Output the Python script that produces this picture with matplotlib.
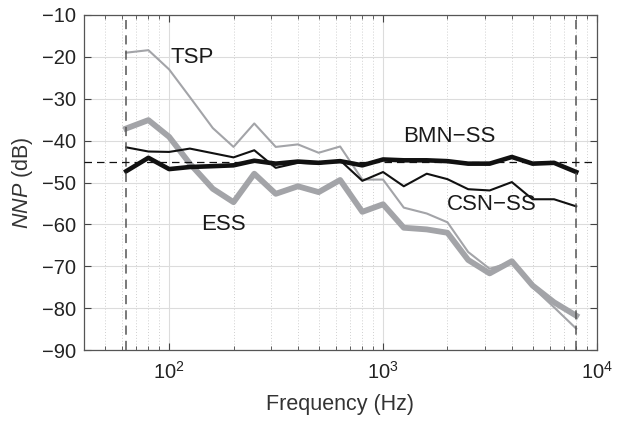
import numpy as np
import matplotlib
matplotlib.use("Agg")
import matplotlib.pyplot as plt
from matplotlib.ticker import LogLocator, NullFormatter, FixedLocator

plt.rcParams['font.family'] = ['Liberation Sans', 'DejaVu Sans']
plt.rcParams['mathtext.fontset'] = 'custom'
plt.rcParams['mathtext.rm'] = 'Liberation Sans'
plt.rcParams['mathtext.it'] = 'Liberation Sans:italic'

# 1/3-octave band centre frequencies (Hz)
freqs = [63, 80, 100, 125, 160, 200, 250, 315, 400, 500, 630, 800,
         1000, 1250, 1600, 2000, 2500, 3150, 4000, 5000, 6300, 8000]

# Normalised noise power per band (dB)
tsp = [-19.0, -18.4, -23.0, -29.6, -37.0, -41.5, -35.9, -41.5, -40.9, -42.9, -41.4,
       -49.3, -49.3, -56.0, -57.4, -59.5, -66.6, -70.6, -69.0, -75.0, -79.8, -84.9]
ess = [-37.1, -35.1, -39.1, -45.5, -51.5, -54.7, -47.9, -52.7, -50.9, -52.3, -49.4,
       -57.0, -55.2, -60.8, -61.2, -62.0, -68.5, -71.7, -68.8, -74.6, -78.6, -81.8]
csn_ss = [-41.6, -42.6, -42.7, -41.9, -43.0, -44.0, -42.3, -46.5, -45.3, -45.5, -44.7,
          -49.6, -47.5, -50.9, -47.9, -49.2, -51.6, -51.9, -49.9, -54.0, -54.0, -55.7]
bmn_ss = [-47.3, -44.1, -46.8, -46.3, -46.1, -45.9, -44.8, -45.5, -45.0, -45.3, -44.9,
          -45.9, -44.5, -44.7, -44.7, -44.9, -45.5, -45.5, -43.9, -45.5, -45.3, -47.5]

band_low, band_high = 63, 8000
ref_level = -45

fig = plt.figure(figsize=(6.34, 4.21), dpi=100)
ax = fig.add_axes([0.1325, 0.1686, 0.8091, 0.7958])

ax.set_xscale('log')
ax.set_xlim(40, 1e4)
ax.set_ylim(-90, -10)

# grid
ax.grid(True, which='major', color='#dcdcdc', lw=0.8, ls='-')
ax.grid(True, which='minor', axis='x', color='#d0d0d0', lw=0.7, ls=(0, (1, 2)))
ax.set_axisbelow(True)

gray = '#a3a4a8'
ax.plot(freqs, ess, color=gray, lw=4.2, solid_joinstyle='round', zorder=3)
ax.plot(freqs, tsp, color=gray, lw=1.5, zorder=3)
ax.plot(freqs, csn_ss, color='#111111', lw=1.5, zorder=4)
ax.plot(freqs, bmn_ss, color='#111111', lw=3.3, zorder=4)

ax.axvline(band_low, color='#555555', lw=1.1, ls=(0, (6, 4)), zorder=5)
ax.axvline(band_high, color='#555555', lw=1.1, ls=(0, (6, 4)), zorder=5)
ax.axhline(ref_level, color='#111111', lw=0.9, ls=(0, (6, 4)), zorder=5)

tkw = dict(fontsize=16, color='#1a1a1a', ha='center', va='baseline', zorder=6)
ax.text(128.6, -21.5, 'TSP', **tkw)
ax.text(2031, -40.4, 'BMN\u2212SS', **tkw)
ax.text(3216, -56.65, 'CSN\u2212SS', **tkw)
ax.text(179.8, -61.3, 'ESS', **tkw)

ax.yaxis.set_major_locator(FixedLocator(np.arange(-90, -9, 10)))
ax.set_yticklabels([f'\u2212{abs(v)}' for v in range(-90, -9, 10)])
ax.xaxis.set_major_locator(LogLocator(base=10, numticks=10))
ax.xaxis.set_minor_locator(LogLocator(base=10, subs=np.arange(2, 10), numticks=10))
ax.xaxis.set_minor_formatter(NullFormatter())

ax.tick_params(which='both', direction='in', top=True, right=True,
               colors='#444444', labelcolor='#222222', labelsize=14.5)
ax.tick_params(which='major', length=5, width=0.8)
ax.tick_params(which='minor', length=3, width=0.6)
ax.tick_params(axis='x', pad=8)
ax.tick_params(axis='y', pad=6)

for s in ax.spines.values():
    s.set_color('#555555')
    s.set_linewidth(0.9)

ax.set_xlabel('Frequency (Hz)', fontsize=15.5, color='#333333', labelpad=8)
ax.set_ylabel(r'$\mathit{NNP}$ (dB)', fontsize=15.5, color='#333333', labelpad=5)

fig.savefig('out.png', dpi=100)
